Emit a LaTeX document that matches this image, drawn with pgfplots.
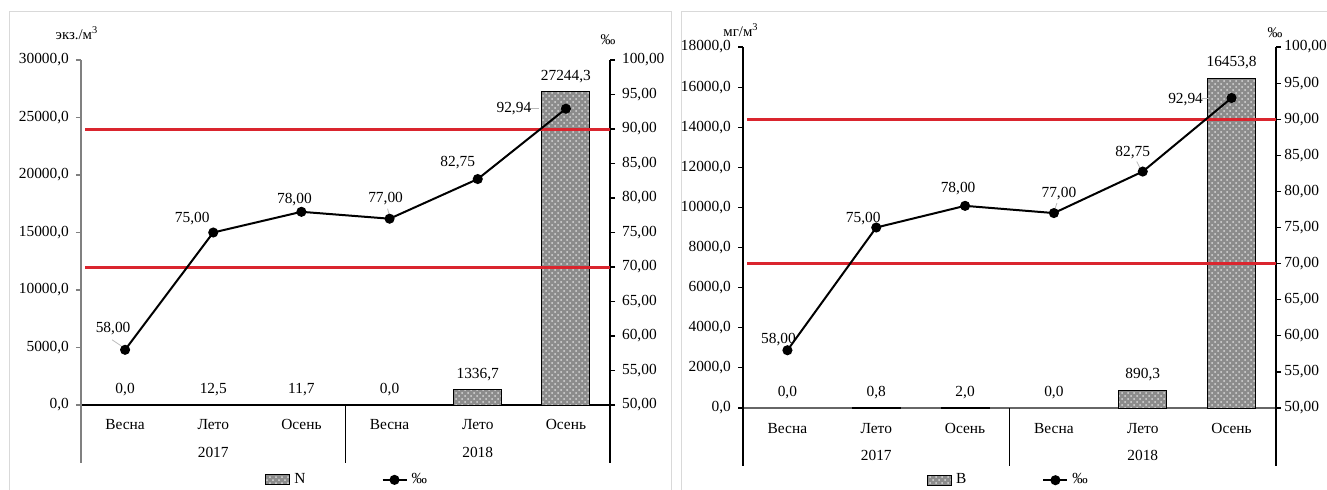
\documentclass[border=0pt]{standalone}
\usepackage{pgfplots}
\pgfplotsset{compat=1.18}
\usepackage{fontspec}
\setmainfont{Liberation Serif}
\usetikzlibrary{patterns}
\definecolor{redline}{RGB}{218,37,46}
\definecolor{framec}{RGB}{217,217,217}
\newcommand{\tf}{\fontsize{7.7}{9}\selectfont}
\newcommand{\uf}{\fontsize{7.4}{8}\selectfont}
\tikzset{
  barfill/.style={draw=black, line width=0.5pt, fill=black!45, postaction={pattern=crosshatch dots, pattern color=white!85!black}},
  lead/.style={gray!55, line width=0.4pt},
}
\pgfplotsset{
  barleg/.style={barfill, legend image code/.code={\draw[##1] (0pt,-2.5pt) rectangle (12pt,2.5pt);}},
  base/.style={
    scale only axis, anchor=south west, clip=false,
    xmin=-0.5, xmax=5.5,
    tick label style={font=\tf},
    /pgf/number format/assume math mode=true,
    tick align=outside, major tick length=2.5pt,
    axis line style={line width=0.6pt, black},
    every tick/.style={black, line width=0.6pt},
    scaled y ticks=false,
  },
  mainax/.style={
    base, ybar, bar width=24pt,
    axis y line*=left, axis x line*=bottom,
    xtick={0,...,5}, xticklabels={Весна,Лето,Осень,Весна,Лето,Осень},
    major x tick style={draw=none},
    yticklabel style={/pgf/number format/.cd, fixed, fixed zerofill, precision=1, use comma, 1000 sep={}},
    nodes near coords={\pgfmathprintnumber[fixed,fixed zerofill,precision=1,use comma,1000 sep={}]{\pgfplotspointmeta}},
    nodes near coords style={font=\tf, yshift=1pt},
  },
  secax/.style={
    base, ymin=50, ymax=100, ytick={50,55,...,100},
    axis y line*=right, axis x line=none, xtick=\empty,
    yticklabel style={/pgf/number format/.cd, fixed, fixed zerofill, precision=2, use comma},
    legend style={draw=none, fill=none, legend columns=2, font=\tf,
      /tikz/every even column/.append style={column sep=36pt}},
  },
  redl/.style={redline, line width=1.5pt, forget plot},
  blackl/.style={black, line width=1pt, mark=*, mark size=2pt, mark options={fill=black},
    legend image code/.code={\draw[mark repeat=2,mark phase=2,##1] plot coordinates {(0pt,0pt) (6pt,0pt) (12pt,0pt)};}},
}
\begin{document}
\begin{tikzpicture}
\useasboundingbox (0,0) rectangle (663.5pt,244.5pt);
% panel frames
\draw[framec, line width=0.5pt] (4.5pt,-1pt) -- (4.5pt,239pt) -- (335.5pt,239pt) -- (335.5pt,-1pt);
\draw[framec, line width=0.5pt] (340.5pt,-1pt) -- (340.5pt,239pt) -- (665pt,239pt);

% ================= LEFT PANEL =================
\begin{axis}[mainax, at={(40.5pt,42pt)}, width=264.5pt, height=172.5pt,
  ymin=0, ymax=30000, ytick={0,5000,...,30000},
  y axis line style={black!50}, ytick style={black!50},
  xticklabel style={yshift=-1pt}]
\addplot[barfill, bar shift=0pt] coordinates {(1,12.5) (2,11.7) (4,1336.7) (5,27244.3)};
\addplot[draw=none, fill=none, bar shift=0pt] coordinates {(0,0) (3,0)};
\draw[black!50, line width=0.6pt] (axis cs:-0.5,0) -- ++(0pt,-29pt);
\draw[black, line width=0.6pt] (axis cs:2.5,0) -- ++(0pt,-29pt);
\draw[black, line width=0.6pt] (axis cs:5.5,0) -- ++(0pt,-29pt);
\node[font=\tf] at (axis cs:1,0) [yshift=-23.5pt] {2017};
\node[font=\tf] at (axis cs:4,0) [yshift=-23.5pt] {2018};
\end{axis}
\begin{axis}[secax, at={(40.5pt,42pt)}, width=264.5pt, height=172.5pt,
  legend style={at={(0.505,-0.217)}, anchor=center}]
\addlegendimage{barleg}
\addlegendentry{N}
\addplot[redl] coordinates {(-0.45,70) (5.5,70)};
\addplot[redl] coordinates {(-0.45,90) (5.5,90)};
\addplot[blackl] coordinates {(0,58) (1,75) (2,78) (3,77) (4,82.75) (5,92.94)};
\addlegendentry{‰}
\draw[lead] (axis cs:0,58) ++(-6.5pt,5pt) -- ++(4.5pt,-3pt);
\draw[lead] (axis cs:3,77) ++(-1pt,5pt) -- ++(0.8pt,-3pt);
\draw[lead] (axis cs:5,92.94) ++(-18pt,0pt) -- ++(4.5pt,0pt);
\node[font=\tf] at (axis cs:0,58) [xshift=-6pt, yshift=10.5pt] {58,00};
\node[font=\tf] at (axis cs:1,75) [xshift=-10.5pt, yshift=7pt] {75,00};
\node[font=\tf] at (axis cs:2,78) [xshift=-3.5pt, yshift=6pt] {78,00};
\node[font=\tf] at (axis cs:3,77) [xshift=-2pt, yshift=10pt] {77,00};
\node[font=\tf] at (axis cs:4,82.75) [xshift=-10pt, yshift=8pt] {82,75};
\node[font=\tf] at (axis cs:5,92.94) [xshift=-26pt, yshift=0pt] {92,94};
\end{axis}
\node[font=\uf] at (38.5pt,228pt) {экз./м\textsuperscript{3}};
\node[font=\uf] at (304pt,224.5pt) {‰};

% ================= RIGHT PANEL =================
\begin{axis}[mainax, at={(371.5pt,40.5pt)}, width=266.5pt, height=180.5pt,
  ymin=0, ymax=18000, ytick={0,2000,...,18000},
  x axis line style={black!60},
  xticklabel style={yshift=-1.5pt}]
\addplot[barfill, bar shift=0pt] coordinates {(1,0.8) (2,2.0) (4,890.3) (5,16453.8)};
\addplot[draw=none, fill=none, bar shift=0pt] coordinates {(0,0) (3,0)};
\draw[black, line width=0.6pt] (axis cs:-0.5,0) -- ++(0pt,-29pt);
\draw[black, line width=0.6pt] (axis cs:2.5,0) -- ++(0pt,-29pt);
\draw[black, line width=0.6pt] (axis cs:5.5,0) -- ++(0pt,-29pt);
\node[font=\tf] at (axis cs:1,0) [yshift=-23.5pt] {2017};
\node[font=\tf] at (axis cs:4,0) [yshift=-23.5pt] {2018};
\end{axis}
\begin{axis}[secax, at={(371.5pt,40.5pt)}, width=266.5pt, height=180.5pt,
  yticklabel style={/tikz/xshift=-1.8pt},
  legend style={at={(0.5,-0.2)}, anchor=center}]
\addlegendimage{barleg}
\addlegendentry{В}
\addplot[redl] coordinates {(-0.45,70) (5.5,70)};
\addplot[redl] coordinates {(-0.45,90) (5.5,90)};
\addplot[blackl] coordinates {(0,58) (1,75) (2,78) (3,77) (4,82.75) (5,92.94)};
\addlegendentry{‰}
\draw[lead] (axis cs:3,77) ++(1.5pt,5pt) -- ++(-1pt,-3pt);
\draw[lead] (axis cs:4,82.75) ++(-3pt,5pt) -- ++(1.5pt,-3pt);
\draw[lead] (axis cs:5,92.94) ++(-15pt,0pt) -- ++(3.5pt,0pt);
\node[font=\tf] at (axis cs:0,58) [xshift=-4.5pt, yshift=5.5pt] {58,00};
\node[font=\tf] at (axis cs:1,75) [xshift=-6.5pt, yshift=4.5pt] {75,00};
\node[font=\tf] at (axis cs:2,78) [xshift=-3.5pt, yshift=8.5pt] {78,00};
\node[font=\tf] at (axis cs:3,77) [xshift=2.5pt, yshift=10pt] {77,00};
\node[font=\tf] at (axis cs:4,82.75) [xshift=-5pt, yshift=9.5pt] {82,75};
\node[font=\tf] at (axis cs:5,92.94) [xshift=-23pt, yshift=-1pt] {92,94};
\end{axis}
\node[font=\uf] at (370.5pt,229.5pt) {мг/м\textsuperscript{3}};
\node[font=\uf] at (637.5pt,228pt) {‰};
\end{tikzpicture}
\end{document}
